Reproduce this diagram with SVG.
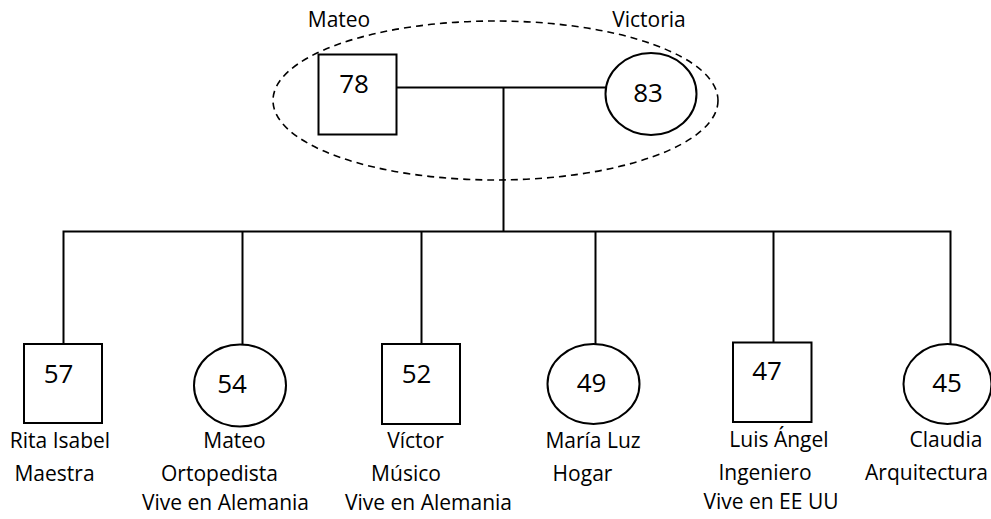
<svg xmlns="http://www.w3.org/2000/svg" width="991" height="519" viewBox="0 0 991 519">
<style>
.s{fill:#fff;stroke:#000;stroke-width:2}
.c{fill:none;stroke:#000;stroke-width:2}
.d{fill:none;stroke:#000;stroke-width:1.6;stroke-dasharray:7 5}
text{font-family:"Open Sans","Noto Sans",sans-serif;fill:#000;text-anchor:middle}
.n{font-size:26px}
.l{font-size:21px}
</style>
<rect width="991" height="519" fill="#fff"/>
<g id="connectors">
<line class="c" x1="397" y1="87.5" x2="606" y2="87.5"/>
<line class="c" x1="503.5" y1="87.5" x2="503.5" y2="231.5"/>
<polyline class="c" points="63.5,344 63.5,231.5 950.5,231.5 950.5,344"/>
<line class="c" x1="242.5" y1="231.5" x2="242.5" y2="344"/>
<line class="c" x1="421.5" y1="231.5" x2="421.5" y2="344"/>
<line class="c" x1="595.5" y1="231.5" x2="595.5" y2="344"/>
<line class="c" x1="773.5" y1="231.5" x2="773.5" y2="344"/>
</g>
<g id="couple">
<ellipse class="d" cx="495.5" cy="100.5" rx="222.5" ry="79.5"/>
</g>
<g id="mateo-sr">
<rect class="s" x="318.5" y="54.5" width="78" height="80"/>
<text class="n" x="354" y="93">78</text>
<text class="l" x="339" y="27">Mateo</text>
</g>
<g id="victoria">
<ellipse class="s" cx="651" cy="94" rx="45.5" ry="41"/>
<text class="n" x="648" y="101.5">83</text>
<text class="l" x="649" y="27">Victoria</text>
</g>
<g id="rita">
<rect class="s" x="24" y="344" width="78" height="79"/>
<text class="n" x="58.5" y="383">57</text>
<text class="l" x="60" y="447.5">Rita Isabel</text>
<text class="l" x="54.5" y="481">Maestra</text>
</g>
<g id="mateo">
<ellipse class="s" cx="240" cy="385.5" rx="46" ry="41"/>
<text class="n" x="232" y="392.5">54</text>
<text class="l" x="234.5" y="447.5">Mateo</text>
<text class="l" x="219.5" y="481">Ortopedista</text>
<text class="l" x="225.5" y="510">Vive en Alemania</text>
</g>
<g id="victor">
<rect class="s" x="382" y="344" width="78" height="80"/>
<text class="n" x="416.5" y="382.5">52</text>
<text class="l" x="415.5" y="447.5">Víctor</text>
<text class="l" x="406" y="481">Músico</text>
<text class="l" x="428.5" y="510">Vive en Alemania</text>
</g>
<g id="maria">
<ellipse class="s" cx="593.5" cy="384" rx="46" ry="40"/>
<text class="n" x="591.5" y="391.5">49</text>
<text class="l" x="593" y="447.5">María Luz</text>
<text class="l" x="582.5" y="481">Hogar</text>
</g>
<g id="luis">
<rect class="s" x="733" y="342.5" width="78.5" height="79.5"/>
<text class="n" x="767" y="380">47</text>
<text class="l" x="779" y="446.5">Luis Ángel</text>
<text class="l" x="765" y="480">Ingeniero</text>
<text class="l" x="771" y="509">Vive en EE UU</text>
</g>
<g id="claudia">
<ellipse class="s" cx="947.5" cy="384" rx="44" ry="40"/>
<text class="n" x="947" y="391.5">45</text>
<text class="l" x="946" y="446.5">Claudia</text>
<text class="l" x="926.5" y="480">Arquitectura</text>
</g>
</svg>
